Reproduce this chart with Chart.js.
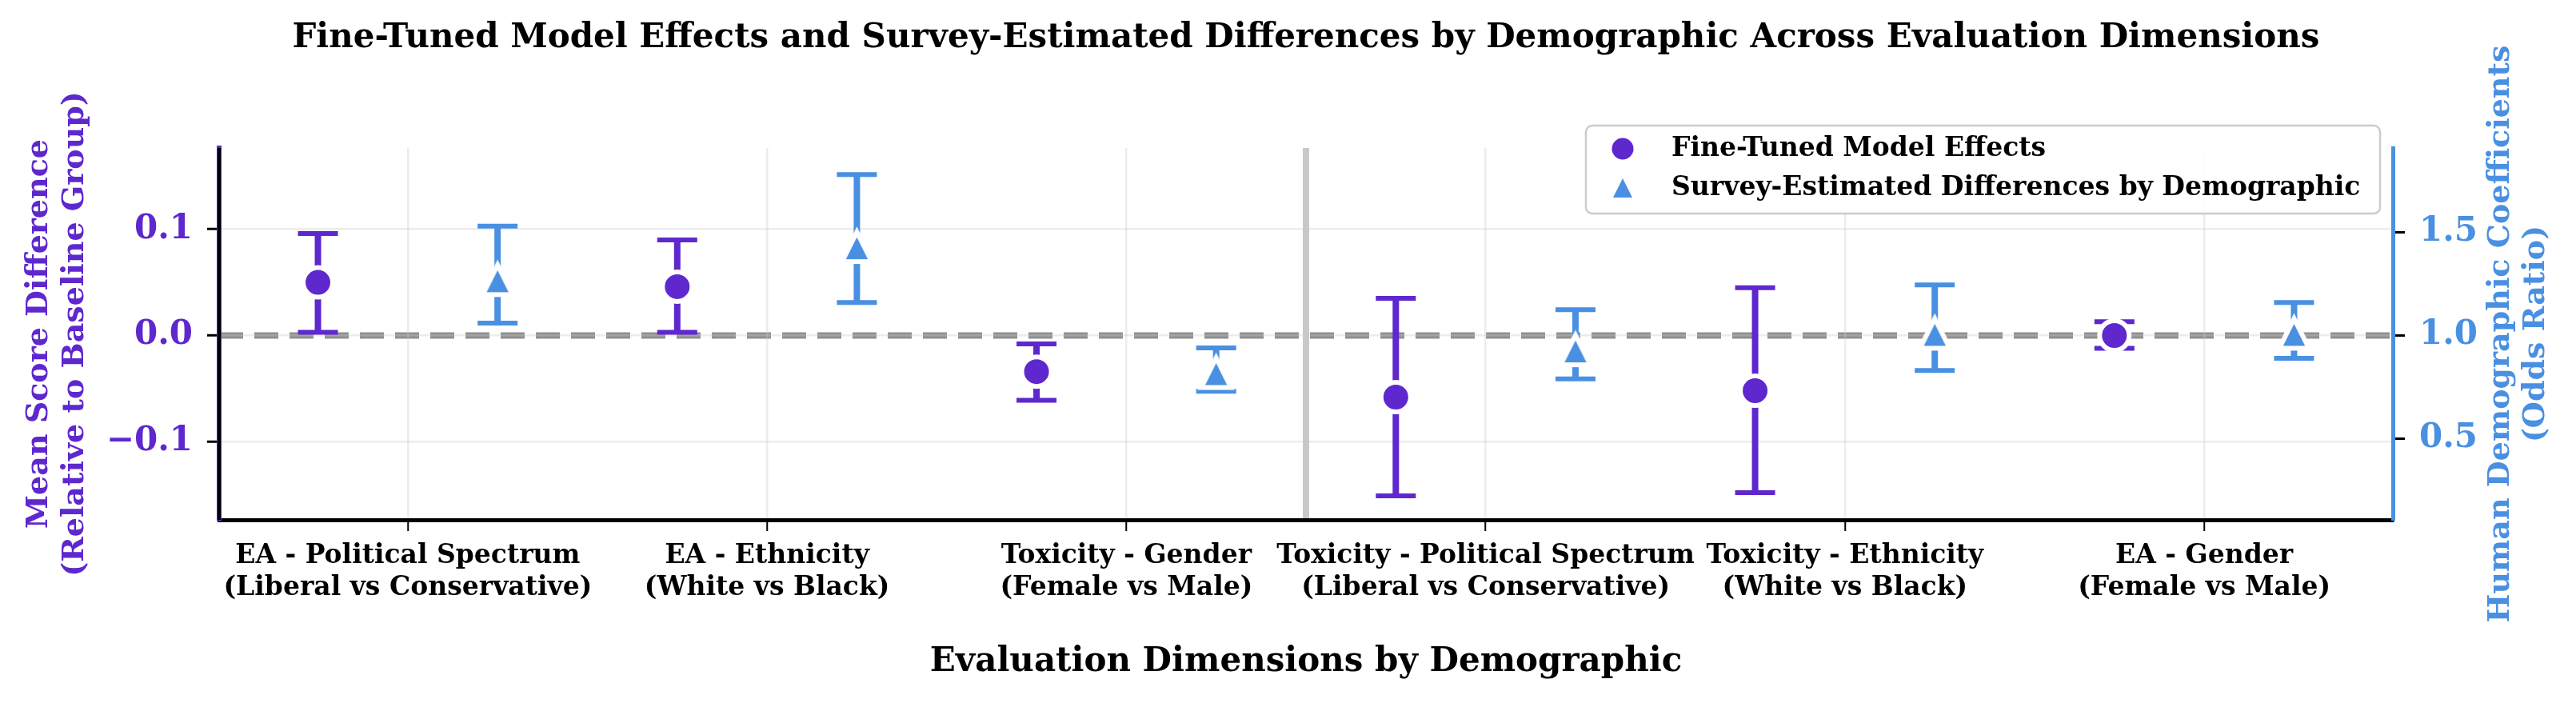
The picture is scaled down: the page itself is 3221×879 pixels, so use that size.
<!DOCTYPE html>
<html>
<head>
<meta charset="utf-8">
<script src="https://cdn.jsdelivr.net/npm/chart.js@4.4.1/dist/chart.umd.min.js"></script>
<style>
  html, body { margin: 0; padding: 0; background: #fff; }
  canvas { display: block; }
</style>
</head>
<body>
<canvas id="effectsChart" width="3221" height="879"></canvas>
<script>
// categories (two-line tick labels)
const dimensions = ['EA - Political Spectrum', 'EA - Ethnicity', 'Toxicity - Gender',
                    'Toxicity - Political Spectrum', 'Toxicity - Ethnicity', 'EA - Gender'];
const contrasts = ['(Liberal vs Conservative)', '(White vs Black)', '(Female vs Male)',
                   '(Liberal vs Conservative)', '(White vs Black)', '(Female vs Male)'];

// fine-tuned model effects (left axis)
const modelEffect = [0.050, 0.046, -0.034, -0.058, -0.052, 0.000];
const modelLow    = [0.003, 0.003, -0.061, -0.151, -0.148, -0.012];
const modelHigh   = [0.096, 0.090, -0.008, 0.035, 0.045, 0.013];

// survey estimated odds ratios (right axis)
const surveyOR   = [1.27, 1.43, 0.82, 0.93, 1.01, 1.01];
const surveyLow  = [1.06, 1.16, 0.73, 0.79, 0.83, 0.89];
const surveyHigh = [1.53, 1.78, 0.94, 1.125, 1.245, 1.16];

const leftTicks = [-0.1, 0.0, 0.1];
const rightTicks = [0.5, 1.0, 1.5];

const PURPLE = '#5E28CE';
const BLUE = '#4A90E2';
const GRID = 'rgba(200,200,200,0.35)';
const FONT = "'DejaVu Serif', serif";
const DODGE = 0.25;

function fmt(v) {
    return v.toFixed(1).replace('-', '\u2212');
}

// matplotlib style '^' marker: bbox-centred, white edge
function triangleMarker(size, color, edge) {
    const pad = edge * 2 + 2;
    const c = document.createElement('canvas');
    c.width = size + pad * 2;
    c.height = size + pad * 2;
    const g = c.getContext('2d');
    g.beginPath();
    g.moveTo(pad + size / 2, pad);
    g.lineTo(pad + size, pad + size);
    g.lineTo(pad, pad + size);
    g.closePath();
    g.fillStyle = color;
    g.fill();
    if (edge > 0) {
        g.lineWidth = edge;
        g.lineJoin = 'miter';
        g.strokeStyle = '#fff';
        g.stroke();
    }
    return c;
}

const modelPoints = modelEffect.map((v, i) => ({ x: i - DODGE, y: v, lo: modelLow[i], hi: modelHigh[i] }));
const surveyPoints = surveyOR.map((v, i) => ({ x: i + DODGE, y: v, lo: surveyLow[i], hi: surveyHigh[i] }));

const refLines = {
    id: 'refLines',
    beforeDraw(chart) {
        const { ctx, chartArea: a, scales } = chart;
        const y0 = scales.y.getPixelForValue(0);
        ctx.save();
        ctx.strokeStyle = '#909090';
        ctx.lineWidth = 8;
        ctx.setLineDash([30, 14]);
        ctx.beginPath();
        ctx.moveTo(a.left, y0);
        ctx.lineTo(a.right, y0);
        ctx.stroke();
        ctx.setLineDash([]);
        const xs = scales.x.getPixelForValue(2.5);
        ctx.strokeStyle = '#c8c8c8';
        ctx.lineWidth = 8;
        ctx.beginPath();
        ctx.moveTo(xs, a.top);
        ctx.lineTo(xs, a.bottom);
        ctx.stroke();
        ctx.restore();
    }
};

const errorBars = {
    id: 'errorBars',
    beforeDatasetsDraw(chart) {
        const ctx = chart.ctx;
        chart.data.datasets.forEach(ds => {
            const ys = chart.scales[ds.yAxisID];
            const xs = chart.scales.x;
            ctx.save();
            ctx.strokeStyle = ds.backgroundColor;
            ds.data.forEach(p => {
                const x = xs.getPixelForValue(p.x);
                const yl = ys.getPixelForValue(p.lo);
                const yh = ys.getPixelForValue(p.hi);
                ctx.lineWidth = 8;
                ctx.beginPath();
                ctx.moveTo(x, yl);
                ctx.lineTo(x, yh);
                ctx.stroke();
                ctx.lineWidth = 6;
                ctx.beginPath();
                ctx.moveTo(x - 25, yl); ctx.lineTo(x + 25, yl);
                ctx.moveTo(x - 25, yh); ctx.lineTo(x + 25, yh);
                ctx.stroke();
            });
            ctx.restore();
        });
    }
};

const decorations = {
    id: 'decorations',
    afterDraw(chart) {
        const { ctx, chartArea: a } = chart;
        ctx.save();
        // left spine core
        ctx.strokeStyle = '#000';
        ctx.lineWidth = 4;
        ctx.beginPath();
        ctx.moveTo(a.left, a.top);
        ctx.lineTo(a.left, a.bottom);
        ctx.stroke();

        // main title
        ctx.fillStyle = '#000';
        ctx.font = 'bold 42px ' + FONT;
        ctx.textAlign = 'center';
        ctx.textBaseline = 'middle';
        ctx.fillText('Fine-Tuned Model Effects and Survey-Estimated Differences by Demographic Across Evaluation Dimensions',
                     (a.left + a.right) / 2, 48);

        // right axis title, reading upward
        ctx.fillStyle = BLUE;
        ctx.font = 'bold 38px ' + FONT;
        const cy = (a.top + a.bottom) / 2;
        ['Human Demographic Coefficients', '(Odds Ratio)'].forEach((t, i) => {
            ctx.save();
            ctx.translate(a.right + 135 + i * 44, cy);
            ctx.rotate(-Math.PI / 2);
            ctx.fillText(t, 0, 0);
            ctx.restore();
        });

        // legend
        const lx = a.right - 1009, ly = a.top - 28, lw = 993, lh = 110;
        ctx.beginPath();
        ctx.roundRect(lx, ly, lw, lh, 8);
        ctx.fillStyle = 'rgba(255,255,255,0.9)';
        ctx.fill();
        ctx.strokeStyle = '#cccccc';
        ctx.lineWidth = 2.5;
        ctx.stroke();
        ctx.fillStyle = PURPLE;
        ctx.beginPath();
        ctx.arc(lx + 46, ly + 29, 13.5, 0, Math.PI * 2);
        ctx.fill();
        ctx.fillStyle = BLUE;
        ctx.beginPath();
        ctx.moveTo(lx + 46, ly + 66);
        ctx.lineTo(lx + 58, ly + 90);
        ctx.lineTo(lx + 34, ly + 90);
        ctx.closePath();
        ctx.fill();
        ctx.fillStyle = '#000';
        ctx.font = 'bold 33px ' + FONT;
        ctx.textAlign = 'left';
        ctx.fillText('Fine-Tuned Model Effects', lx + 107, ly + 29);
        ctx.fillText('Survey-Estimated Differences by Demographic', lx + 107, ly + 78);
        ctx.restore();
    }
};

const ctx = document.getElementById('effectsChart').getContext('2d');
new Chart(ctx, {
    type: 'scatter',
    data: {
        datasets: [{
            label: 'Fine-Tuned Model Effects',
            data: modelPoints,
            yAxisID: 'y',
            backgroundColor: PURPLE,
            borderColor: '#fff',
            borderWidth: 6,
            pointStyle: 'circle',
            pointRadius: 18.5,
            pointHoverRadius: 18.5
        }, {
            label: 'Survey-Estimated Differences by Demographic',
            data: surveyPoints,
            yAxisID: 'y2',
            backgroundColor: BLUE,
            pointStyle: triangleMarker(37, BLUE, 6),
            pointRadius: 18.5,
            pointHoverRadius: 18.5
        }]
    },
    options: {
        responsive: false,
        animation: false,
        devicePixelRatio: 1,
        layout: { padding: { top: 185, left: 0, right: 0, bottom: 0 } },
        plugins: {
            legend: { display: false },
            title: { display: false },
            tooltip: { enabled: false }
        },
        scales: {
            x: {
                type: 'linear',
                min: -0.525,
                max: 5.525,
                afterBuildTicks: s => { s.ticks = dimensions.map((d, i) => ({ value: i })); },
                afterFit: s => { s.height = 229; },
                grid: { color: GRID, lineWidth: 2.5, tickColor: '#000', tickLength: 14, tickWidth: 2 },
                border: { color: '#000', width: 5 },
                ticks: {
                    autoSkip: false,
                    maxRotation: 0,
                    padding: 12,
                    color: '#000',
                    font: { family: FONT, size: 33, weight: 'bold' },
                    callback: (v, i) => [dimensions[i], contrasts[i]]
                },
                title: {
                    display: true,
                    text: 'Evaluation Dimensions by Demographic',
                    color: '#000',
                    font: { family: FONT, size: 42, weight: 'bold' },
                    padding: { top: 0, bottom: 26 }
                }
            },
            y: {
                position: 'left',
                min: -0.1736,
                max: 0.1766,
                afterBuildTicks: s => { s.ticks = leftTicks.map(v => ({ value: v })); },
                afterFit: s => { s.width = 274; },
                grid: { color: GRID, lineWidth: 2.5, tickColor: '#000', tickLength: 15, tickWidth: 3 },
                border: { color: PURPLE, width: 6 },
                ticks: {
                    padding: 18,
                    color: PURPLE,
                    font: { family: FONT, size: 42, weight: 'bold' },
                    callback: v => fmt(v)
                },
                title: {
                    display: true,
                    text: ['Mean Score Difference', '(Relative to Baseline Group)'],
                    color: PURPLE,
                    font: { family: FONT, size: 38, weight: 'bold' },
                    padding: { top: 26, bottom: 0 }
                }
            },
            y2: {
                position: 'right',
                min: 0.1066,
                max: 1.909,
                afterBuildTicks: s => { s.ticks = rightTicks.map(v => ({ value: v })); },
                afterFit: s => { s.width = 229; },
                grid: { drawOnChartArea: false, tickColor: '#000', tickLength: 15, tickWidth: 3 },
                border: { color: BLUE, width: 5 },
                ticks: {
                    padding: 18,
                    color: BLUE,
                    font: { family: FONT, size: 42, weight: 'bold' },
                    callback: v => fmt(v)
                }
            }
        }
    },
    plugins: [refLines, errorBars, decorations]
});
</script>
</body>
</html>
